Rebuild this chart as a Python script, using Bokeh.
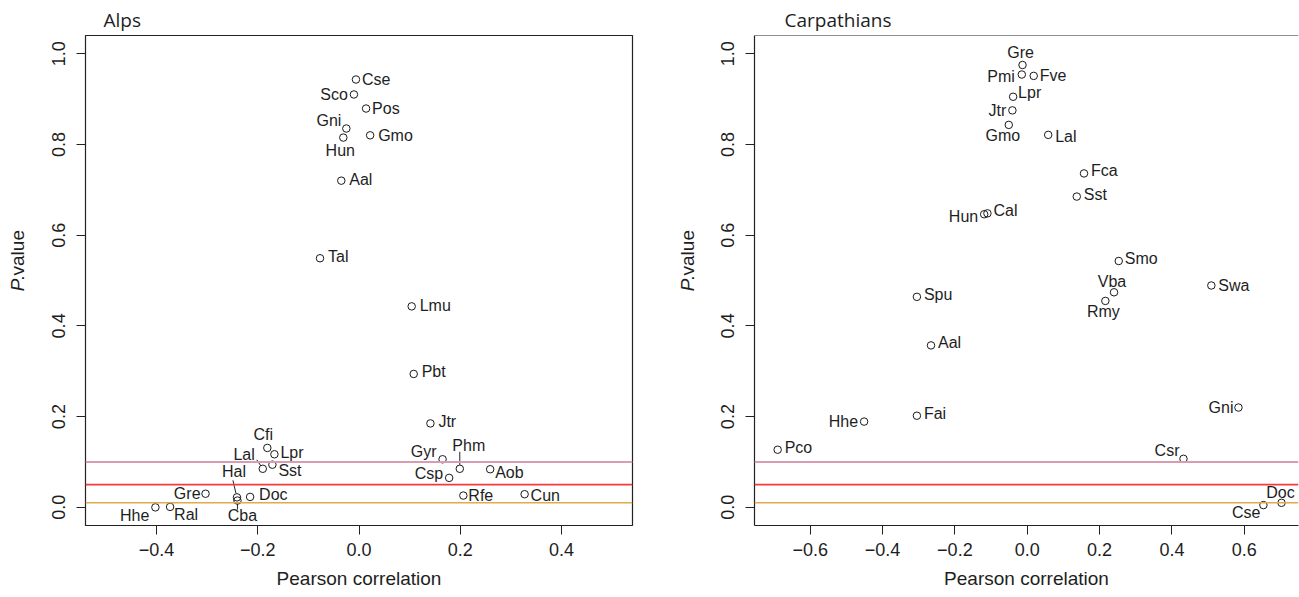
import math
from bokeh.plotting import figure
from bokeh.models import Range1d, FixedTicker, Span, ColumnDataSource
from bokeh.layouts import row
from bokeh.embed import file_html
from bokeh.resources import INLINE
from bokeh.core.properties import value

# ---------------- data ----------------
alps_species = ["Cse", "Sco", "Pos", "Gni", "Hun", "Gmo", "Aal", "Tal", "Lmu", "Pbt",
                "Jtr", "Cfi", "Lpr", "Lal", "Sst", "Gyr", "Phm", "Csp", "Aob", "Rfe",
                "Cun", "Gre", "Hal", "Cba", "Doc", "Hhe", "Ral"]
alps_r = [-0.006, -0.010, 0.014, -0.025, -0.031, 0.022, -0.035, -0.077, 0.104, 0.108,
          0.141, -0.181, -0.167, -0.190, -0.171, 0.165, 0.199, 0.178, 0.259, 0.206,
          0.327, -0.303, -0.241, -0.240, -0.215, -0.402, -0.373]
alps_p = [0.943, 0.910, 0.879, 0.835, 0.815, 0.820, 0.720, 0.549, 0.443, 0.294,
          0.185, 0.131, 0.117, 0.085, 0.094, 0.106, 0.085, 0.065, 0.084, 0.026,
          0.029, 0.030, 0.022, 0.015, 0.023, 0.000, 0.001]

carp_species = ["Gre", "Pmi", "Fve", "Lpr", "Jtr", "Gmo", "Lal", "Fca", "Sst", "Hun",
                "Cal", "Smo", "Vba", "Rmy", "Swa", "Spu", "Aal", "Fai", "Hhe", "Gni",
                "Pco", "Csr", "Doc", "Cse"]
carp_r = [-0.013, -0.015, 0.018, -0.039, -0.041, -0.051, 0.058, 0.157, 0.137, -0.119,
          -0.110, 0.253, 0.240, 0.216, 0.509, -0.305, -0.266, -0.305, -0.451, 0.584,
          -0.690, 0.432, 0.703, 0.653]
carp_p = [0.975, 0.954, 0.951, 0.905, 0.875, 0.843, 0.821, 0.736, 0.685, 0.646,
          0.648, 0.543, 0.474, 0.455, 0.489, 0.464, 0.357, 0.202, 0.189, 0.220,
          0.127, 0.107, 0.010, 0.005]

thresholds = [0.1, 0.05, 0.01]
y_ticks = [0.0, 0.2, 0.4, 0.6, 0.8, 1.0]
alps_x_ticks = [-0.4, -0.2, 0.0, 0.2, 0.4]
carp_x_ticks = [-0.6, -0.4, -0.2, 0.0, 0.2, 0.4, 0.6]
y_title_parts = ["P", ".value"]

# ---------------- label placement (style only) ----------------
alps_place = {
    "Cse": ("left", 6, 0), "Sco": ("right", -6, 0), "Pos": ("left", 6, 0),
    "Gni": ("right", -5, -8), "Hun": ("center", -3, 13), "Gmo": ("left", 8, 0),
    "Aal": ("left", 8, -1), "Tal": ("left", 8, -2), "Lmu": ("left", 8, -1),
    "Pbt": ("left", 8, -2), "Jtr": ("left", 8, -2), "Cfi": ("center", -4, -13),
    "Lpr": ("left", 6, -2), "Lal": ("right", -8, -14), "Sst": ("left", 6, 6),
    "Gyr": ("right", -6, -8), "Phm": ("center", 9, -23), "Csp": ("right", -6, -4),
    "Aob": ("left", 5, 3), "Rfe": ("left", 5, 0), "Cun": ("left", 6, 1),
    "Gre": ("right", -5, 0), "Hal": ("center", -3, -26), "Cba": ("center", 5, 15),
    "Doc": ("left", 9, -2), "Hhe": ("right", -6, 8), "Ral": ("left", 4, 8),
}
alps_leaders = {"Lal": ((-6, -9), (-2, -3)), "Phm": ((0, -4), (0, -17)),
                "Hal": ((-4, -17), (-1, -4)), "Cba": ((0, 3), (0, 9))}

carp_place = {
    "Gre": ("center", -2, -12), "Pmi": ("right", -7, 2), "Fve": ("left", 6, 0),
    "Lpr": ("left", 5, -4), "Jtr": ("right", -6, 0), "Gmo": ("center", -6, 11),
    "Lal": ("left", 7, 2), "Fca": ("left", 7, -3), "Sst": ("left", 7, -2),
    "Hun": ("right", -6, 2), "Cal": ("left", 6, -3), "Smo": ("left", 6, -2),
    "Vba": ("center", -2, -11), "Rmy": ("center", -2, 11), "Swa": ("left", 7, 0),
    "Spu": ("left", 7, -2), "Aal": ("left", 7, -3), "Fai": ("left", 7, -2),
    "Hhe": ("right", -6, 0), "Gni": ("right", -5, 0), "Pco": ("left", 7, -2),
    "Csr": ("right", -4, -8), "Doc": ("center", -1, -10), "Cse": ("right", -3, 7),
}
carp_leaders = {}

LINE_COLORS = ["#D99DB3", "#F23A3F", "#E0AA4E"]
FONT = "Liberation Sans"
TXT = "#1e1e1e"
HEIGHT = 597
TOP, BOTTOM = 35, 72
YR = (-0.04, 1.04)


def fmt(v):
    s = "%.1f" % abs(v)
    return ("\u2212" + s) if v < -1e-9 else s


def ylabel_fig(width, cx):
    f = figure(width=width, height=HEIGHT, x_range=Range1d(0, width), y_range=Range1d(0, HEIGHT),
               output_backend="svg", toolbar_location=None, x_axis_type=None, y_axis_type=None,
               min_border_left=0, min_border_right=0, min_border_top=0, min_border_bottom=0)
    f.grid.visible = False
    f.outline_line_color = None
    frame_mid = HEIGHT - (TOP + (HEIGHT - TOP - BOTTOM) / 2.0)
    start = frame_mid - 31.5
    f.text(x=[cx], y=[start], text=[y_title_parts[0]], angle=math.pi / 2,
           text_align="left", text_baseline="middle", text_font=value(FONT),
           text_font_size="19px", text_font_style="italic", text_color=TXT)
    f.text(x=[cx], y=[start + 12.7], text=[y_title_parts[1]], angle=math.pi / 2,
           text_align="left", text_baseline="middle", text_font=value(FONT),
           text_font_size="19px", text_color=TXT)
    return f


def panel(title, title_dx, names, xs, ys, place, leaders, xr, xticks,
          width, left_b, right_b, outline=True):
    p = figure(width=width, height=HEIGHT, x_range=Range1d(*xr), y_range=Range1d(*YR),
               output_backend="svg", toolbar_location=None, title=title,
               min_border_left=left_b, min_border_right=right_b,
               min_border_top=TOP, min_border_bottom=BOTTOM)
    p.title.align = "left"
    p.title.offset = title_dx
    p.title.text_font = "Open Sans"
    p.title.text_font_size = "19px"
    p.title.text_font_style = "normal"
    p.title.text_color = TXT
    p.title.standoff = 6
    p.grid.visible = False
    p.background_fill_color = "white"
    p.border_fill_color = "white"
    if outline:
        p.outline_line_color = "#222222"
        p.outline_line_width = 1.2
        p.outline_line_alpha = 1
    else:
        p.outline_line_color = None

    frame_w = width - left_b - right_b
    frame_h = HEIGHT - TOP - BOTTOM
    ppx = frame_w / (xr[1] - xr[0])
    ppy = frame_h / (YR[1] - YR[0])

    for ax in (p.xaxis[0], p.yaxis[0]):
        ax.axis_line_color = "#222222" if not outline else None
        ax.axis_line_width = 1.2
        ax.major_tick_line_color = "#222222"
        ax.major_tick_out = 9
        ax.major_tick_in = 0
        ax.minor_tick_line_color = None
        ax.major_label_text_font = FONT
        ax.major_label_text_font_size = "18px"
        ax.major_label_text_color = TXT
    p.xaxis.major_label_standoff = 8
    p.yaxis.major_label_standoff = 11
    p.xaxis.ticker = FixedTicker(ticks=xticks)
    p.xaxis.major_label_overrides = {t: fmt(t) for t in xticks}
    p.yaxis.ticker = FixedTicker(ticks=y_ticks)
    p.yaxis.major_label_overrides = {t: fmt(t) for t in y_ticks}
    p.yaxis.major_label_orientation = "vertical"
    p.xaxis.axis_label = "Pearson correlation"
    p.xaxis.axis_label_text_font = FONT
    p.xaxis.axis_label_text_font_size = "19px"
    p.xaxis.axis_label_text_font_style = "normal"
    p.xaxis.axis_label_text_color = TXT
    p.xaxis.axis_label_standoff = 9

    if not outline:
        p.add_layout(Span(location=YR[1], dimension="width", line_color="#222222", line_width=1.2))

    for loc, col in zip(thresholds, LINE_COLORS):
        p.add_layout(Span(location=loc, dimension="width", line_color=col,
                          line_width=2 if loc == thresholds[0] else 1.6))

    if leaders:
        x0s, y0s, x1s, y1s = [], [], [], []
        for n, ((ax_, ay_), (bx_, by_)) in leaders.items():
            i = names.index(n)
            x0s.append(xs[i] + ax_ / ppx); y0s.append(ys[i] - ay_ / ppy)
            x1s.append(xs[i] + bx_ / ppx); y1s.append(ys[i] - by_ / ppy)
        p.segment(x0s, y0s, x1s, y1s, line_color="#222222", line_width=1)

    p.scatter(xs, ys, marker="circle", size=7.5, fill_color=None,
              line_color="#1a1a1a", line_width=1)

    for align in ("left", "right", "center"):
        d = dict(x=[], y=[], t=[], dx=[], dy=[])
        for n, x, y in zip(names, xs, ys):
            a, dx, dy = place[n]
            if a == align:
                d["x"].append(x); d["y"].append(y); d["t"].append(n)
                d["dx"].append(dx); d["dy"].append(dy)
        if d["x"]:
            p.text(x="x", y="y", text="t", x_offset="dx", y_offset="dy",
                   source=ColumnDataSource(d), text_align=align, text_baseline="middle",
                   text_font=value(FONT), text_font_size="16px", text_color=TXT)
    return p


labA = ylabel_fig(34, 17)
p1 = panel("Alps", 18, alps_species, alps_r, alps_p, alps_place, alps_leaders,
           (-0.54, 0.54), alps_x_ticks, 602, 51, 4, outline=True)
labB = ylabel_fig(64, 51)
p2 = panel("Carpathians", 30, carp_species, carp_r, carp_p, carp_place, carp_leaders,
           (-0.754, 0.750), carp_x_ticks, 599, 54, 1, outline=False)

layout = row(labA, p1, labB, p2)
open("out.html", "w").write(file_html(layout, INLINE))
